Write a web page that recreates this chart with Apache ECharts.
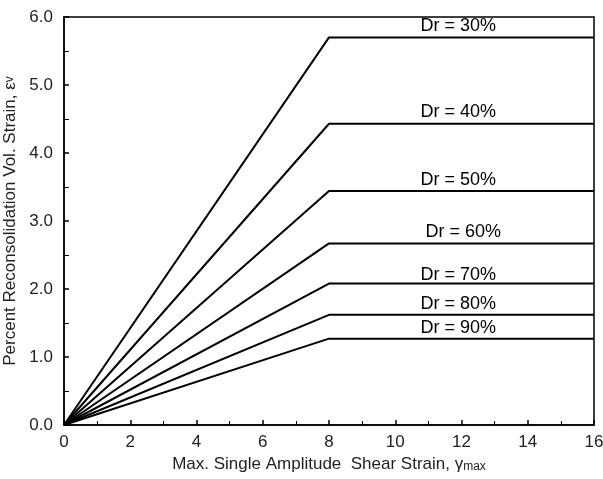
<!DOCTYPE html>
<html>
<head>
<meta charset="utf-8">
<script src="https://cdn.jsdelivr.net/npm/echarts@6/dist/echarts.min.js"></script>
<style>
  html, body { margin: 0; padding: 0; background: #fff; }
  #chart { width: 603px; height: 479px; }
</style>
</head>
<body>
<div id="chart"></div>
<script>
// relative density curves: rise to the plateau at gamma = 8 %, then flat
var densities = ['Dr = 30%', 'Dr = 40%', 'Dr = 50%', 'Dr = 60%', 'Dr = 70%', 'Dr = 80%', 'Dr = 90%'];
var kinkStrain = 8;
var maxStrain = 16;
var plateau = [5.70, 4.43, 3.44, 2.67, 2.08, 1.62, 1.27];

// where the curve names sit along the plateau (x value) and gap above the line
var labelX = [11.9, 11.9, 11.9, 12.05, 11.9, 11.9, 11.9];
var labelGap = [2, 2, 2, 2, -1, 1, 1];

var myChart = echarts.init(document.getElementById('chart'));

var series = densities.map(function (name, i) {
    var v = plateau[i];
    return {
        name: name,
        type: 'line',
        symbol: 'none',
        lineStyle: { color: '#000', width: 2 },
        data: [[0, 0], [kinkStrain, v], [maxStrain, v]],
        markPoint: {
            symbol: 'rect',
            symbolSize: [1, 1],
            silent: true,
            itemStyle: { color: 'transparent' },
            data: [{
                coord: [labelX[i], v],
                label: {
                    show: true,
                    position: 'top',
                    distance: labelGap[i],
                    formatter: name,
                    color: '#000',
                    fontSize: 18,
                    fontFamily: 'Liberation Sans'
                }
            }]
        }
    };
});

var option = {
    animation: false,
    textStyle: { fontFamily: 'Liberation Sans' },
    grid: {
        left: 64, right: 9, top: 17, bottom: 54,
        outerBoundsMode: 'none',
        containLabel: false,
        show: true, borderColor: '#000', borderWidth: 1.5
    },
    xAxis: {
        type: 'value',
        min: 0, max: 16, interval: 2,
        name: '{a|Max. Single Amplitude  Shear Strain, γ}{s|max}',
        nameLocation: 'middle',
        nameGap: 30,
        nameTextStyle: {
            rich: {
                a: { fontSize: 17, color: '#222', fontFamily: 'Liberation Sans' },
                s: { fontSize: 12, color: '#222', fontFamily: 'Liberation Sans', padding: [5, 0, 0, 0] }
            }
        },
        axisLine: { lineStyle: { color: '#000', width: 1.5 } },
        axisTick: { inside: true, length: 5, lineStyle: { color: '#000', width: 1.5 } },
        minorTick: { show: true, splitNumber: 2, length: 4, lineStyle: { color: '#000', width: 1 } },
        axisLabel: { color: '#222', fontSize: 17, margin: 9 },
        splitLine: { show: false }
    },
    yAxis: {
        type: 'value',
        min: 0, max: 6, interval: 1,
        name: '{a|Percent Reconsolidation Vol. Strain, ε}{s|v}',
        nameLocation: 'middle',
        nameGap: 39,
        nameRotate: 90,
        nameTextStyle: {
            rich: {
                a: { fontSize: 17, color: '#222', fontFamily: 'Liberation Sans' },
                s: { fontSize: 12, color: '#222', fontFamily: 'Liberation Sans' }
            }
        },
        axisLine: { lineStyle: { color: '#000', width: 1.5 } },
        axisTick: { inside: true, length: 5, lineStyle: { color: '#000', width: 1.5 } },
        minorTick: { show: true, splitNumber: 2, length: 5, lineStyle: { color: '#000', width: 1 } },
        axisLabel: {
            color: '#222', fontSize: 17, margin: 11,
            formatter: function (v) { return v.toFixed(1); }
        },
        splitLine: { show: false }
    },
    series: series
};

myChart.setOption(option);
</script>
</body>
</html>
